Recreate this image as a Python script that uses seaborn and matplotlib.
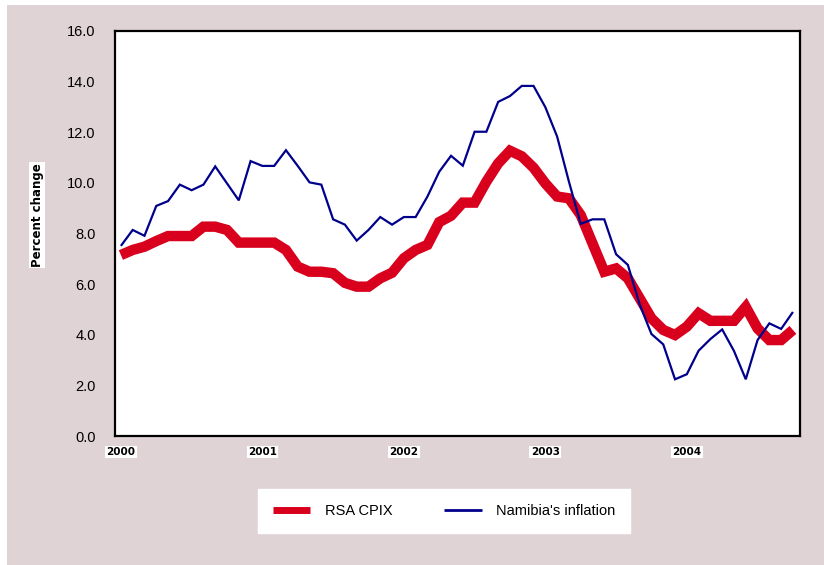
import numpy as np
import pandas as pd
import matplotlib
matplotlib.use('Agg')
import matplotlib.pyplot as plt
import seaborn as sns

# ── Data (monthly, Jan 2000 - Oct 2004) ─────────────────────────────────────
RSA_CPIX = [7.15, 7.35, 7.48, 7.7, 7.9, 7.9, 7.9, 8.27, 8.27, 8.14,
            7.64, 7.64, 7.64, 7.64, 7.35, 6.69, 6.49, 6.49, 6.43, 6.05,
            5.9, 5.9, 6.23, 6.45, 7.02, 7.35, 7.55, 8.45, 8.7, 9.22,
            9.22, 10.05, 10.77, 11.27, 11.05, 10.6, 9.98, 9.46, 9.39, 8.73,
            7.61, 6.49, 6.62, 6.23, 5.44, 4.65, 4.19, 3.99, 4.32, 4.85,
            4.55, 4.55, 4.55, 5.1, 4.25, 3.79, 3.79, 4.19]
NAMIBIA = [7.51, 8.14, 7.91, 9.09, 9.28, 9.93, 9.71, 9.93, 10.65, 9.98,
           9.31, 10.86, 10.67, 10.67, 11.29, 10.67, 10.02, 9.93, 8.56, 8.35,
           7.72, 8.14, 8.65, 8.35, 8.65, 8.65, 9.46, 10.44, 11.07, 10.68,
           12.02, 12.02, 13.2, 13.43, 13.83, 13.83, 12.99, 11.83, 10.05, 8.38,
           8.56, 8.56, 7.18, 6.76, 5.2, 4.03, 3.62, 2.24, 2.44, 3.37,
           3.83, 4.21, 3.36, 2.24, 3.79, 4.45, 4.23, 4.9]
YEARS = ['2000', '2001', '2002', '2003', '2004']
Y_TICKS = [0, 2, 4, 6, 8, 10, 12, 14, 16]

# ── Palette ──────────────────────────────────────────────────────────────────
BG    = "#E0D3D6"
RED   = "#D9001E"
NAVY  = "#00008C"

months = np.arange(len(RSA_CPIX))
df = pd.DataFrame({'Month': np.concatenate([months, months]),
                   'Value': RSA_CPIX + NAMIBIA,
                   'Series': ['RSA CPIX'] * len(months) + ["Namibia's inflation"] * len(months)})

sns.set_style('white')
plt.rcParams['font.family'] = ['Liberation Sans', 'DejaVu Sans']
plt.rcParams['text.color'] = 'black'

fig = plt.figure(figsize=(8.24, 5.65), dpi=100, facecolor='white')
fig.patches.append(plt.Rectangle((7 / 824, 0), 1, 1 - 5 / 565, transform=fig.transFigure,
                                 facecolor=BG, edgecolor='none', zorder=-10))
ax = fig.add_axes([115 / 824, 1 - 436 / 565, 685 / 824, 405 / 565])
ax.set_facecolor('white')

sns.lineplot(data=df, x='Month', y='Value', hue='Series', size='Series',
             palette={'RSA CPIX': RED, "Namibia's inflation": NAVY},
             sizes={'RSA CPIX': 7.5, "Namibia's inflation": 1.6},
             ax=ax, legend=False)
for ln in ax.lines:
    ln.set_solid_joinstyle('miter')
    ln.set_solid_capstyle('butt')

ax.set_xlim(-0.5, 57.6)
ax.set_ylim(0, 16)
ax.set_yticks(Y_TICKS)
ax.set_yticklabels([f"{v:.1f}" for v in Y_TICKS], fontsize=10.5, color='black')
ax.set_xticks(np.arange(len(YEARS)) * 12)
ax.set_xticklabels(YEARS, fontsize=7.5, fontweight='bold', family='DejaVu Sans',
                   color='black', bbox=dict(facecolor='white', edgecolor='none', pad=1))
ax.tick_params(axis='x', length=0, pad=8)
ax.tick_params(axis='y', length=0, pad=14)
ax.set_xlabel('')
ax.set_ylabel('')
for sp in ax.spines.values():
    sp.set_visible(True)
    sp.set_color('black')
    sp.set_linewidth(1.6)

fig.text(37 / 824, 1 - 215 / 565, 'Percent change', rotation=90, fontsize=8.5,
         fontweight='bold', family='DejaVu Sans', ha='center', va='center',
         bbox=dict(facecolor='white', edgecolor='none', pad=1))

handles = [plt.Line2D([], [], color=RED, lw=5), plt.Line2D([], [], color=NAVY, lw=2)]
leg = fig.legend(handles, ['RSA CPIX', "Namibia's inflation"], loc='center',
                 bbox_to_anchor=(444 / 824, 1 - 511 / 565), ncol=2, frameon=True,
                 fancybox=False, framealpha=1, fontsize=10.5, handlelength=2.6,
                 columnspacing=3.5, borderpad=1.0, handletextpad=1.0,
                 borderaxespad=0)
leg.get_frame().set_facecolor('white')
leg.get_frame().set_edgecolor('white')
for h in leg.legend_handles:
    h.set_solid_capstyle('butt')

fig.savefig('out.png', dpi=100, facecolor=fig.get_facecolor())
